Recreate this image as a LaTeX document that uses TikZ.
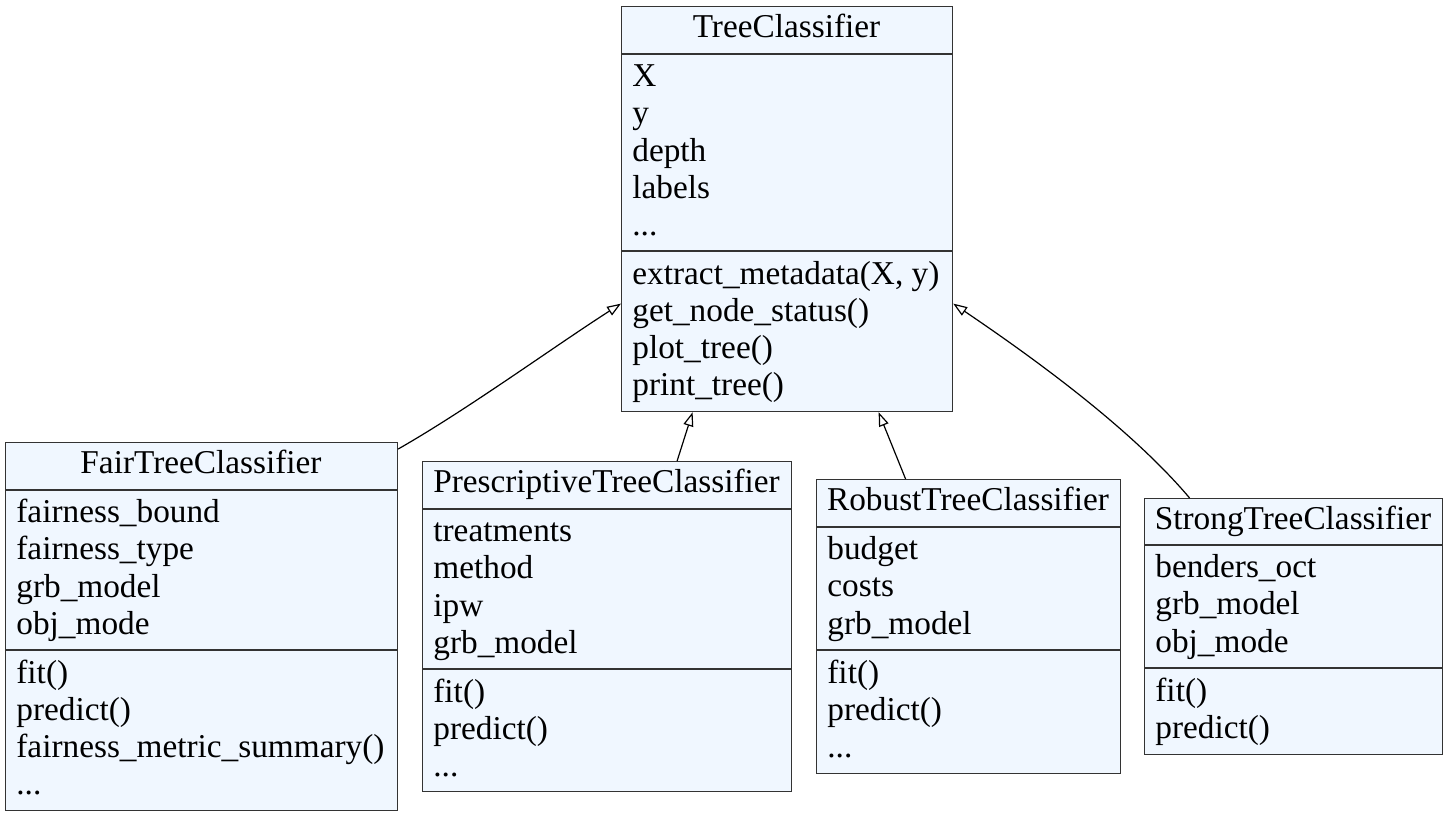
\documentclass[tikz,border=0pt]{standalone}
\usepackage{fontspec}
\setmainfont{Liberation Serif}
\usetikzlibrary{arrows.meta}
\definecolor{boxblue}{RGB}{240,247,255}
\newcommand\more{...}

\begin{document}
\begin{tikzpicture}[x=0.5pt,y=-0.5pt,
  font=\fontsize{16.65}{18.65}\selectfont,
  classbox/.style={draw=black!80,fill=boxblue,line width=0.6pt,anchor=north west,inner sep=0pt},
  divider/.style={draw=black!80,line width=0.6pt},
  heading/.style={anchor=base,inner sep=0pt},
  member/.style={anchor=base west,inner sep=0pt},
  inherit/.style={-{Triangle[open,length=7pt,width=5pt]},line width=0.6pt}]
  \useasboundingbox (0,0) rectangle (1448,816);

  % Base class
  \node[classbox,minimum width=165.5pt,minimum height=202.5pt] (tree) at (621,6) {};
  \node[heading] (treename) at (786.5,37) {TreeClassifier};
  \draw[divider] (621,54) -- (952,54);
  \draw[divider] (621,251) -- (952,251);
  \foreach \m [count=\i from 0] in {X,y,depth,labels,\more}
    \node[member] (treeattr\i) at (632,86.5+37.3*\i) {\m};
  \foreach \m [count=\i from 0] in {{extract\_metadata(X, y)},get\_node\_status(),plot\_tree(),print\_tree()}
    \node[member] (treemeth\i) at (632,284+37.3*\i) {\m};

  % Fair
  \node[classbox,minimum width=196pt,minimum height=184pt] (fair) at (5,442) {};
  \node[heading] (fairname) at (201,473) {FairTreeClassifier};
  \draw[divider] (5,490) -- (397,490);
  \draw[divider] (5,650) -- (397,650);
  \foreach \m [count=\i from 0] in {fairness\_bound,fairness\_type,grb\_model,obj\_mode}
    \node[member] (fairattr\i) at (16,522.5+37.3*\i) {\m};
  \foreach \m [count=\i from 0] in {fit(),predict(),fairness\_metric\_summary(),\more}
    \node[member] (fairmeth\i) at (16,683+37.3*\i) {\m};

  % Prescriptive
  \node[classbox,minimum width=184.5pt,minimum height=165pt] (presc) at (422,461) {};
  \node[heading] (prescname) at (606.5,492) {PrescriptiveTreeClassifier};
  \draw[divider] (422,509) -- (791,509);
  \draw[divider] (422,669) -- (791,669);
  \foreach \m [count=\i from 0] in {treatments,method,ipw,grb\_model}
    \node[member] (prescattr\i) at (433,541.5+37.3*\i) {\m};
  \foreach \m [count=\i from 0] in {fit(),predict(),\more}
    \node[member] (prescmeth\i) at (433,702+37.3*\i) {\m};

  % Robust
  \node[classbox,minimum width=152pt,minimum height=147pt] (robust) at (816,479) {};
  \node[heading] (robustname) at (968,510) {RobustTreeClassifier};
  \draw[divider] (816,527) -- (1120,527);
  \draw[divider] (816,650) -- (1120,650);
  \foreach \m [count=\i from 0] in {budget,costs,grb\_model}
    \node[member] (robustattr\i) at (827,559.5+37.3*\i) {\m};
  \foreach \m [count=\i from 0] in {fit(),predict(),\more}
    \node[member] (robustmeth\i) at (827,683+37.3*\i) {\m};

  % Strong
  \node[classbox,minimum width=149pt,minimum height=128pt] (strong) at (1144,498) {};
  \node[heading] (strongname) at (1293,529) {StrongTreeClassifier};
  \draw[divider] (1144,545) -- (1442,545);
  \draw[divider] (1144,668) -- (1442,668);
  \foreach \m [count=\i from 0] in {benders\_oct,grb\_model,obj\_mode}
    \node[member] (strongattr\i) at (1155,577.5+37.3*\i) {\m};
  \foreach \m [count=\i from 0] in {fit(),predict()}
    \node[member] (strongmeth\i) at (1155,701+37.3*\i) {\m};

  % Inheritance
  \draw[inherit] ([yshift=-3.5pt]fair.north east) .. controls +(70,-40) and +(-70,45) .. ([yshift=-47.25pt]tree.west);
  \draw[inherit] ([xshift=35pt]presc.north) -- ([xshift=-47.25pt]tree.south);
  \draw[inherit] ([xshift=-31.5pt]robust.north) -- ([xshift=45.75pt]tree.south);
  \draw[inherit] ([xshift=-52pt]strong.north) .. controls +(-49,-58) and +(108,73) .. ([yshift=-47.25pt]tree.east);
\end{tikzpicture}
\end{document}
